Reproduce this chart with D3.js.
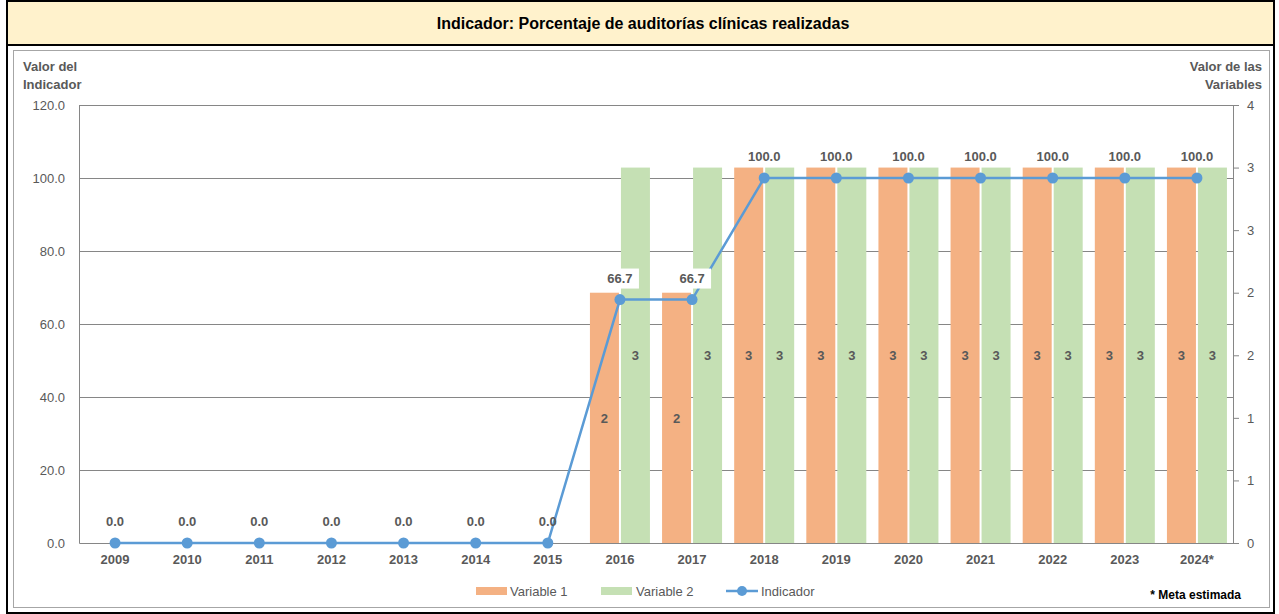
<!DOCTYPE html>
<html>
<head>
<meta charset="utf-8">
<script src="https://cdn.jsdelivr.net/npm/d3@7"></script>
<style>
  body { margin: 0; background: #fff; }
  text { font-family: "Liberation Sans Narrow", "Arial Narrow", "Liberation Sans", Arial, sans-serif; }
</style>
</head>
<body>
<div id="chart"></div>
<script>
// data
const years = ['2009', '2010', '2011', '2012', '2013', '2014', '2015', '2016',
  '2017', '2018', '2019', '2020', '2021', '2022', '2023', '2024*'];
const variable1 = [null, null, null, null, null, null, null, 2, 2, 3, 3, 3, 3, 3, 3, 3];
const variable2 = [null, null, null, null, null, null, null, 3, 3, 3, 3, 3, 3, 3, 3, 3];
const indicador = [0, 0, 0, 0, 0, 0, 0, 66.7, 66.7, 100, 100, 100, 100, 100, 100, 100];
const leftTicks = [0, 20, 40, 60, 80, 100, 120];
const rightTicks = [0, 0.5, 1, 1.5, 2, 2.5, 3, 3.5];
const rightTickLabels = ['0', '1', '1', '2', '2', '3', '3', '4'];

const W = 1279, H = 614;
const margin = { top: 105, right: 46, bottom: 71, left: 79 };
const width = W - margin.left - margin.right;
const height = H - margin.top - margin.bottom;
const grey = '#595959';

const svg = d3.select('#chart').append('svg')
  .attr('width', W)
  .attr('height', H);

// frames
svg.append('rect').attr('x', 7).attr('y', 1).attr('width', 1267).attr('height', 612)
  .attr('fill', '#fff').attr('stroke', '#000').attr('stroke-width', 2);
svg.append('rect').attr('x', 7).attr('y', 1).attr('width', 1267).attr('height', 44)
  .attr('fill', '#fff2cc').attr('stroke', '#000').attr('stroke-width', 2);
svg.append('rect').attr('x', 13.5).attr('y', 50.5).attr('width', 1256).attr('height', 557)
  .attr('fill', 'none').attr('stroke', '#a6a6a6').attr('stroke-width', 1);

svg.append('text')
  .attr('x', 643).attr('y', 29)
  .attr('text-anchor', 'middle')
  .style('font-family', '"Liberation Sans", Arial, sans-serif')
  .style('font-size', '16px').style('font-weight', 'bold')
  .text('Indicador: Porcentaje de auditorías clínicas realizadas');

// axis titles
const lt = svg.append('text').attr('x', 23).attr('y', 71)
  .style('font-size', '13px').style('font-weight', 'bold').attr('fill', grey);
lt.append('tspan').attr('x', 23).text('Valor del');
lt.append('tspan').attr('x', 23).attr('dy', 18).text('Indicador');
const rt = svg.append('text').attr('x', 1262).attr('y', 71).attr('text-anchor', 'end')
  .style('font-size', '13px').style('font-weight', 'bold').attr('fill', grey);
rt.append('tspan').attr('x', 1262).text('Valor de las');
rt.append('tspan').attr('x', 1262).attr('dy', 18).text('Variables');

const g = svg.append('g').attr('transform', `translate(${margin.left},${margin.top})`);

// scales
const x = d3.scaleBand().domain(years).range([0, width]);
const yL = d3.scaleLinear().domain([0, 120]).range([height, 0]);
const yR = d3.scaleLinear().domain([0, 3.5]).range([height, 0]);

// grid
g.selectAll('.grid').data(leftTicks.slice(1)).enter().append('line')
  .attr('x1', 0).attr('x2', width)
  .attr('y1', d => Math.round(yL(d)) + 0.5).attr('y2', d => Math.round(yL(d)) + 0.5)
  .attr('stroke', '#868686').attr('stroke-width', 1);

// left axis
const leftAxis = g.append('g')
  .call(d3.axisLeft(yL).tickValues(leftTicks).tickFormat(d3.format('.1f')).tickSize(0).tickPadding(14));
leftAxis.select('.domain').attr('stroke', '#868686');
leftAxis.selectAll('text').attr('fill', grey).style('font-size', '13px');

// right axis
const rightAxis = g.append('g').attr('transform', `translate(${width},0)`)
  .call(d3.axisRight(yR).tickValues(rightTicks).tickFormat((d, i) => rightTickLabels[i]).tickSize(6).tickPadding(8));
rightAxis.select('.domain').attr('stroke', '#868686');
rightAxis.selectAll('line').attr('stroke', '#868686');
rightAxis.selectAll('text').attr('fill', grey).style('font-size', '13px');

// x axis labels
const xAxis = g.append('g').attr('transform', `translate(0,${height})`)
  .call(d3.axisBottom(x).tickSize(0).tickPadding(12));
xAxis.select('.domain').attr('stroke', '#868686');
xAxis.selectAll('text').attr('fill', grey).style('font-size', '13px').style('font-weight', 'bold');

// bars
const barW = 29;
const v1 = years.map((d, i) => ({ year: d, v: variable1[i] })).filter(d => d.v != null);
const v2 = years.map((d, i) => ({ year: d, v: variable2[i] })).filter(d => d.v != null);
const cx = d => x(d) + x.bandwidth() / 2;

g.selectAll('.bar1').data(v1).enter().append('rect')
  .attr('class', 'bar1')
  .attr('x', d => cx(d.year) - barW - 1)
  .attr('width', barW)
  .attr('y', d => yR(d.v))
  .attr('height', d => height - yR(d.v))
  .attr('fill', '#f4b183');
g.selectAll('.bar2').data(v2).enter().append('rect')
  .attr('class', 'bar2')
  .attr('x', d => cx(d.year) + 1)
  .attr('width', barW)
  .attr('y', d => yR(d.v))
  .attr('height', d => height - yR(d.v))
  .attr('fill', '#c5e0b4');

// bar labels
g.selectAll('.lab1').data(v1).enter().append('text')
  .attr('x', d => cx(d.year) - barW / 2 - 1)
  .attr('y', d => (yR(d.v) + height) / 2 + 5)
  .attr('text-anchor', 'middle').attr('fill', grey)
  .style('font-size', '13px').style('font-weight', 'bold')
  .text(d => d.v);
g.selectAll('.lab2').data(v2).enter().append('text')
  .attr('x', d => cx(d.year) + barW / 2 + 1)
  .attr('y', d => (yR(d.v) + height) / 2 + 5)
  .attr('text-anchor', 'middle').attr('fill', grey)
  .style('font-size', '13px').style('font-weight', 'bold')
  .text(d => d.v);

// indicator line
const pts = years.map((d, i) => ({ year: d, v: indicador[i] }));
g.append('path').datum(pts)
  .attr('fill', 'none').attr('stroke', '#5b9bd5').attr('stroke-width', 2.5)
  .attr('d', d3.line().x(d => cx(d.year)).y(d => yL(d.v)));
g.selectAll('.pt').data(pts).enter().append('circle')
  .attr('cx', d => cx(d.year)).attr('cy', d => yL(d.v)).attr('r', 5.5)
  .attr('fill', '#5b9bd5');

// indicator labels with white box
const ilab = g.selectAll('.ilab').data(pts).enter().append('g')
  .attr('transform', d => `translate(${cx(d.year)},${yL(d.v) - 17})`);
ilab.filter(d => d.v > 0 && d.v < 100).append('rect')
  .attr('x', -19).attr('y', -14).attr('width', 38).attr('height', 20).attr('fill', '#fff');
ilab.append('text')
  .attr('text-anchor', 'middle').attr('y', 0)
  .attr('fill', grey).style('font-size', '13px').style('font-weight', 'bold')
  .text(d => d3.format('.1f')(d.v));

// legend
const leg = svg.append('g').attr('transform', 'translate(476,591)');
leg.append('rect').attr('x', 0).attr('y', -4).attr('width', 31).attr('height', 8).attr('fill', '#f4b183');
leg.append('text').attr('x', 34).attr('y', 5).attr('fill', grey).style('font-size', '13px').text('Variable 1');
leg.append('rect').attr('x', 125).attr('y', -4).attr('width', 31).attr('height', 8).attr('fill', '#c5e0b4');
leg.append('text').attr('x', 160).attr('y', 5).attr('fill', grey).style('font-size', '13px').text('Variable 2');
leg.append('line').attr('x1', 250).attr('x2', 282).attr('y1', 0).attr('y2', 0)
  .attr('stroke', '#5b9bd5').attr('stroke-width', 2.5);
leg.append('circle').attr('cx', 266).attr('cy', 0).attr('r', 5).attr('fill', '#5b9bd5');
leg.append('text').attr('x', 285).attr('y', 5).attr('fill', grey).style('font-size', '13px').text('Indicador');

// footnote
svg.append('text').attr('x', 1241).attr('y', 599).attr('text-anchor', 'end')
  .attr('fill', '#000').style('font-size', '12px').style('font-weight', 'bold')
  .text('* Meta estimada');
</script>
</body>
</html>
